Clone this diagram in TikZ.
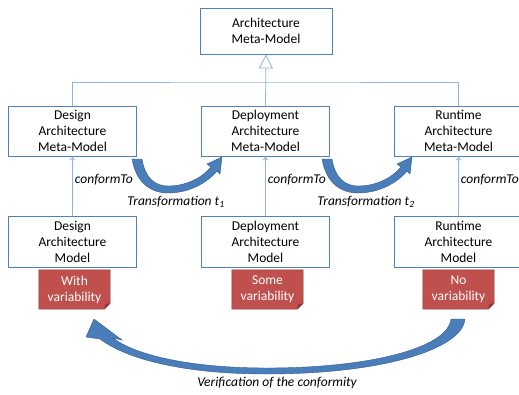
\documentclass[tikz,border=0pt]{standalone}
\usepackage{fontspec}
\setmainfont{Carlito}
\usetikzlibrary{arrows.meta}
\definecolor{boxblue}{HTML}{4F81BD}
\definecolor{lineblue}{HTML}{8EB4E3}
\definecolor{arrblue}{HTML}{4A7EBB}
\definecolor{arrdark}{HTML}{2F5A8F}
\definecolor{notered}{HTML}{C0504D}
\definecolor{notedark}{HTML}{8C3836}
\newcommand{\basefont}{\fontsize{13.5}{16}\selectfont}
\tikzset{
  box/.style={draw=boxblue, line width=0.9pt, fill=white, align=center, minimum width=128pt, minimum height=50pt, inner sep=0pt},
  notebox/.style={align=center, text=white, minimum width=71pt, minimum height=39pt, inner sep=0pt},
  gen/.style={draw=lineblue, line width=0.8pt},
  conf/.style={draw=lineblue, line width=0.8pt, -{To[length=4pt,width=6pt]}},
  lbl/.style={font=\basefont\itshape, inner sep=2pt},
  bigarrow/.style={fill=arrblue, draw=arrdark, line width=0.4pt}
}
\begin{document}
\begin{tikzpicture}[x=1pt,y=-1pt, font=\basefont]
\clip (0,0) rectangle (519,394);
\fill[white] (0,0) rectangle (519,394);
% boxes
\node[box, minimum width=132pt, minimum height=46pt] (top) at (266,31) {Architecture\\Meta-Model};
\node[box] (desm) at (72.5,131) {Design\\Architecture\\Meta-Model};
\node[box] (depm) at (265.5,131) {Deployment\\Architecture\\Meta-Model};
\node[box] (rtm) at (458.5,131) {Runtime\\Architecture\\Meta-Model};
\node[box, minimum height=51pt] (desb) at (72.5,241.5) {Design\\Architecture\\Model};
\node[box, minimum height=51pt] (depb) at (265.5,241.5) {Deployment\\Architecture\\Model};
\node[box, minimum height=51pt] (rtb) at (458.5,241.5) {Runtime\\Architecture\\Model};
% generalization
\coordinate (hj) at (265.5,82);
\draw[gen] (desm.north) |- (hj) -| (rtm.north);
\draw[gen, -{Triangle[open,width=14pt,length=14pt,fill=white]}] (depm.north) -- (top.south);
% conformTo
\draw[conf] (desb.north) -- (desm.south) node[lbl, pos=0.6, right] {conformTo};
\draw[conf] (depb.north) -- (depm.south) node[lbl, pos=0.6, right] {conformTo};
\draw[conf] (rtb.north) -- (rtm.south) node[lbl, pos=0.6, right] {conformTo};
% transformation arrows
\foreach \dx in {0,190}{
\begin{scope}[xshift=\dx pt]
\path[bigarrow] (132,159) .. controls (136,182) and (150,193) .. (168,193)
  .. controls (190,193) and (208,182) .. (217,171) -- (220,174) -- (222,157) -- (207,164)
  -- (211,167) .. controls (202,178) and (186,186) .. (168,186)
  .. controls (155,186) and (145,178) .. (142,159) -- cycle;
\end{scope}}
\node[lbl] (t1) at (176,202) {Transformation t\textsubscript{1}};
\node[lbl] (t2) at (366,202) {Transformation t\textsubscript{2}};
% notes
\foreach \nm/\cx/\txt in {n1/74.5/{With\\variability}, n2/267.5/{Some\\variability}, n3/458.5/{No\\variability}}{
\node[notebox] (\nm) at (\cx,289.5) {};
\fill[notered, draw=notedark, line width=0.5pt] (\nm.north west) -- (\nm.north east) -- ([yshift=6pt]\nm.south east) -- ([xshift=-6pt]\nm.south east) -- (\nm.south west) -- cycle;
\fill[notedark] ([yshift=6pt]\nm.south east) -- ([xshift=-6pt]\nm.south east) -- ([xshift=-5pt,yshift=5pt]\nm.south east) -- cycle;
\node[notebox] at (\nm) {\txt};
}
% verification arrow
\path[bigarrow] (451,319) -- (465,319) .. controls (462,350) and (380,374) .. (267,374)
  .. controls (180,374) and (125,358) .. (100,339) -- (86,337) -- (94,319) -- (122,340)
  -- (113,338) .. controls (135,355) and (190,368) .. (267,368)
  .. controls (370,368) and (448,348) .. (451,319) -- cycle;
\node[lbl] (ver) at (277,383) {Verification of the conformity};
\end{tikzpicture}
\end{document}
